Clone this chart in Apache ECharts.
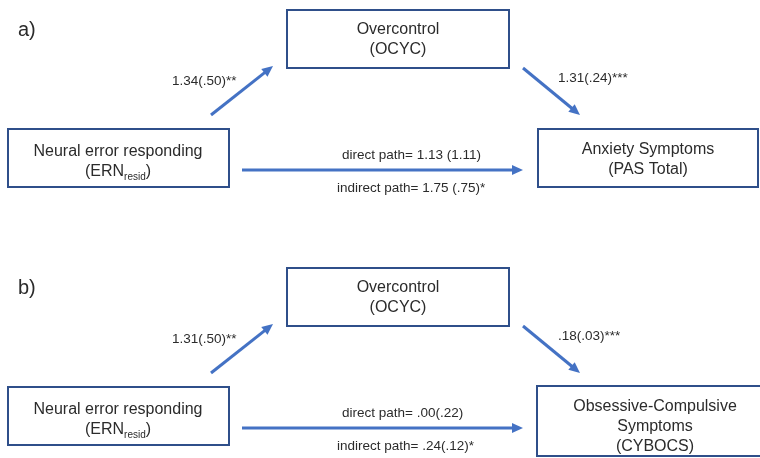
<!DOCTYPE html>
<html>
<head>
<meta charset="utf-8">
<title>Mediation models</title>
<script src="https://cdn.jsdelivr.net/npm/echarts@6/dist/echarts.min.js"></script>
<style>
  html, body { margin: 0; padding: 0; background: #ffffff; }
  #chart { width: 760px; height: 458px; }
</style>
</head>
<body>
<div id="chart"></div>
<script>
// ---- content ----
const panelLabels = ['a)', 'b)'];
const predictorText = ['Neural error responding', 'Neural error responding'];
const predictorSub = ['resid', 'resid'];
const mediatorText = ['Overcontrol\n(OCYC)', 'Overcontrol\n(OCYC)'];
const outcomeText = ['Anxiety Symptoms\n(PAS Total)', 'Obsessive-Compulsive\nSymptoms\n(CYBOCS)'];
const pathA = ['1.34(.50)**', '1.31(.50)**'];
const pathB = ['1.31(.24)***', '.18(.03)***'];
const directPath = ['direct path= 1.13 (1.11)', 'direct path= .00(.22)'];
const indirectPath = ['indirect path= 1.75 (.75)*', 'indirect path= .24(.12)*'];

// ---- layout (canvas units, y grows downward) ----
const panelTop = [0, 258];
const panelLabelPos = [18, 30];
const boxLayout = {
  mediator:  [[287, 10, 509, 68], [287, 10, 509, 68]],
  predictor: [[8, 129, 229, 187], [8, 129, 229, 187]],
  outcome:   [[538, 129, 758, 187], [537, 128, 772, 198]]
};
const boxTextCenter = {
  mediator:  [[398, 40], [398, 40]],
  predictor: [[118, 162], [118, 162]],
  outcome:   [[648, 160], [655, 169]]
};
const arrowLayout = [
  [[211, 115], [273, 66]],
  [[523, 68], [580, 115]],
  [[242, 170], [523, 170]]
];
const labelLayout = {
  pathA: [172, 81],
  pathB: [558, 78],
  direct: [342, 155],
  indirect: [337, 188]
};

const FONT = '"Liberation Sans", Arial, Helvetica, sans-serif';
const TEXT = '#2b2b2b';
const BORDER = '#2f4f8a';
const ARROW = '#4472c4';

// element lists built from the content arrays
const boxes = [];
const arrows = [];
const labels = [];
panelLabels.forEach(function (p, i) {
  const dy = panelTop[i];
  labels.push({ text: p, x: panelLabelPos[0], y: panelLabelPos[1] + dy, size: 20, align: 'left' });
  boxes.push({ r: boxLayout.mediator[i], c: boxTextCenter.mediator[i], dy: dy,
    text: mediatorText[i].split('\n').map(function (s) { return '{t|' + s + '}'; }).join('\n') });
  boxes.push({ r: boxLayout.predictor[i], c: boxTextCenter.predictor[i], dy: dy,
    text: '{t|' + predictorText[i] + '}\n{t|(ERN}{s|' + predictorSub[i] + '}{t|)}' });
  boxes.push({ r: boxLayout.outcome[i], c: boxTextCenter.outcome[i], dy: dy,
    text: outcomeText[i].split('\n').map(function (s) { return '{t|' + s + '}'; }).join('\n') });
  arrowLayout.forEach(function (a) { arrows.push({ a: a, dy: dy }); });
  labels.push({ text: pathA[i], x: labelLayout.pathA[0], y: labelLayout.pathA[1] + dy, size: 13.5, align: 'left' });
  labels.push({ text: pathB[i], x: labelLayout.pathB[0], y: labelLayout.pathB[1] + dy, size: 13.5, align: 'left' });
  labels.push({ text: directPath[i], x: labelLayout.direct[0], y: labelLayout.direct[1] + dy, size: 13.5, align: 'left' });
  labels.push({ text: indirectPath[i], x: labelLayout.indirect[0], y: labelLayout.indirect[1] + dy, size: 13.5, align: 'left' });
});

const chart = echarts.init(document.getElementById('chart'), null, { renderer: 'canvas' });

function idx(list) { return list.map(function (_, k) { return [k]; }); }

chart.setOption({
  animation: false,
  backgroundColor: '#ffffff',
  grid: { left: 0, right: 0, top: 0, bottom: 0 },
  xAxis: { type: 'value', min: 0, max: 760, show: false },
  yAxis: { type: 'value', min: 0, max: 458, inverse: true, show: false },
  series: [
    {
      // variable boxes
      type: 'custom',
      coordinateSystem: 'cartesian2d',
      silent: true,
      data: idx(boxes),
      renderItem: function (params, api) {
        const b = boxes[params.dataIndex];
        const p0 = api.coord([b.r[0], b.r[1] + b.dy]);
        const p1 = api.coord([b.r[2], b.r[3] + b.dy]);
        const c = api.coord([b.c[0], b.c[1] + b.dy]);
        return {
          type: 'group',
          children: [
            {
              type: 'rect',
              shape: { x: p0[0], y: p0[1], width: p1[0] - p0[0], height: p1[1] - p0[1] },
              style: { fill: '#ffffff', stroke: BORDER, lineWidth: 2 }
            },
            {
              type: 'text',
              x: c[0], y: c[1],
              style: {
                text: b.text,
                align: 'center',
                verticalAlign: 'middle',
                rich: {
                  t: { fontFamily: FONT, fontSize: 16, lineHeight: 20, fill: TEXT, align: 'center' },
                  s: { fontFamily: FONT, fontSize: 10, lineHeight: 20, fill: TEXT, verticalAlign: 'bottom', padding: [8, 0, 0, 0] }
                }
              }
            }
          ]
        };
      }
    },
    {
      // path arrows
      type: 'custom',
      coordinateSystem: 'cartesian2d',
      silent: true,
      data: idx(arrows),
      renderItem: function (params, api) {
        const a = arrows[params.dataIndex];
        const s = api.coord([a.a[0][0], a.a[0][1] + a.dy]);
        const e = api.coord([a.a[1][0], a.a[1][1] + a.dy]);
        const dx = e[0] - s[0], dyy = e[1] - s[1];
        const len = Math.sqrt(dx * dx + dyy * dyy);
        const ux = dx / len, uy = dyy / len;
        const headL = 11, headW = 5;
        const bx = e[0] - ux * headL, by = e[1] - uy * headL;
        return {
          type: 'group',
          children: [
            {
              type: 'line',
              shape: { x1: s[0], y1: s[1], x2: bx + ux * 2, y2: by + uy * 2 },
              style: { stroke: ARROW, lineWidth: 3 }
            },
            {
              type: 'polygon',
              shape: { points: [[e[0], e[1]], [bx - uy * headW, by + ux * headW], [bx + uy * headW, by - ux * headW]] },
              style: { fill: ARROW }
            }
          ]
        };
      }
    },
    {
      // coefficient and panel labels
      type: 'custom',
      coordinateSystem: 'cartesian2d',
      silent: true,
      data: idx(labels),
      renderItem: function (params, api) {
        const l = labels[params.dataIndex];
        const p = api.coord([l.x, l.y]);
        return {
          type: 'text',
          x: p[0], y: p[1],
          style: {
            text: l.text,
            fontFamily: FONT,
            fontSize: l.size,
            fill: TEXT,
            align: l.align,
            verticalAlign: 'middle'
          }
        };
      }
    }
  ]
});
</script>
</body>
</html>
